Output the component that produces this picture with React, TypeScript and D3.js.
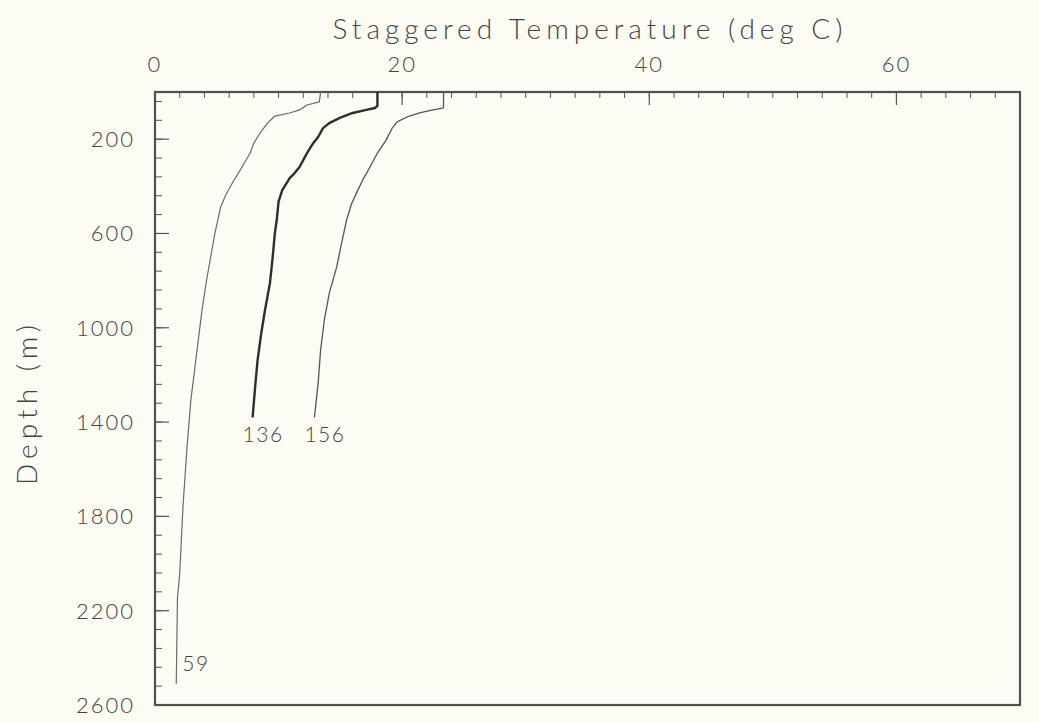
import React from "react";
import * as d3 from "d3";

// ---- data (temperature deg C, staggered; depth m) ----
const profile59Temp = [13.4, 13.3, 12.3, 11.7, 10.9, 9.7, 9.1, 8.5, 8.0, 7.7, 6.9, 6.3, 5.7, 5.3, 4.85, 4.2, 3.8, 3.4, 2.9, 2.6, 2.26, 2.0, 1.82, 1.72];
const profile59Depth = [0, 42, 55, 76, 89, 102, 132, 174, 217, 259, 331, 382, 440, 490, 599, 790, 926, 1096, 1308, 1500, 1762, 2043, 2144, 2510];

const profile136Temp = [18.0, 18.0, 17.8, 17.1, 16.0, 14.95, 14.1, 13.6, 13.2, 12.8, 12.3, 11.7, 11.3, 10.9, 10.3, 10.0, 9.85, 9.7, 9.5, 9.3, 8.9, 8.6, 8.3, 8.1, 7.9];
const profile136Depth = [0, 59, 68, 76, 89, 110, 132, 153, 191, 217, 259, 318, 344, 365, 416, 465, 544, 599, 713, 811, 926, 1023, 1138, 1253, 1380];

const profile156Temp = [23.35, 23.35, 23.3, 22.5, 21.4, 20.4, 19.6, 19.2, 18.7, 18.0, 17.4, 16.8, 16.3, 15.9, 15.5, 15.1, 14.7, 14.1, 13.7, 13.4, 13.2, 12.9];
const profile156Depth = [0, 64, 68, 76, 89, 106, 127, 153, 204, 259, 318, 374, 429, 475, 544, 641, 743, 854, 968, 1096, 1236, 1380];

const profileLabels = ["59", "136", "156"];

const xMajorTicks = [0, 20, 40, 60];
const yMajorTicks = [200, 600, 1000, 1400, 1800, 2200, 2600];

const titleText = "Staggered Temperature (deg C)";
const yTitleText = "Depth (m)";

const W = 1039;
const H = 722;
const FONT = "Lato, 'Open Sans', 'Liberation Sans', sans-serif";
const INK = "#444";

export default function App() {
  const x = d3.scaleLinear().domain([0, 70]).range([155, 1020]);
  const y = d3.scaleLinear().domain([0, 2600]).range([92, 705]);

  const line = d3
    .line<[number, number]>()
    .x((d) => x(d[0]))
    .y((d) => y(d[1]))
    .curve(d3.curveLinear);

  const series = [
    { temp: profile59Temp, depth: profile59Depth, width: 1.2, color: "#6a6a6a" },
    { temp: profile136Temp, depth: profile136Depth, width: 2.4, color: "#2e2e2e" },
    { temp: profile156Temp, depth: profile156Depth, width: 1.3, color: "#555" },
  ];

  const xMinor = d3.range(2, 70, 2);
  const yMinor = d3.range(40, 2600, 80);

  const [x0, x1] = x.range();
  const [y0, y1] = y.range();

  return (
    <svg
      width={W}
      height={H}
      style={{ position: "absolute", left: 0, top: 0 }}
      fontFamily={FONT}
    >
      <rect x={0} y={0} width={W} height={H} fill="#fcfcf5" />

      {/* title */}
      <text
        x={(x0 + x1) / 2}
        y={39}
        textAnchor="middle"
        fontSize={28}
        fontWeight={300}
        fill={INK}
        textLength={510}
        lengthAdjust="spacing"
      >
        {titleText}
      </text>

      {/* y title */}
      <text
        transform={`translate(37, ${(325 + 485) / 2}) rotate(-90)`}
        textAnchor="middle"
        fontSize={28}
        fontWeight={300}
        fill={INK}
        textLength={160}
        lengthAdjust="spacing"
      >
        {yTitleText}
      </text>

      {/* x ticks (top, inward) */}
      {xMinor.map((t) => (
        <line key={"xm" + t} x1={x(t)} x2={x(t)} y1={y0} y2={y0 + 6} stroke="#555" strokeWidth={1} />
      ))}
      {xMajorTicks.map((t) => (
        <g key={"xM" + t}>
          <line x1={x(t)} x2={x(t)} y1={y0} y2={y0 + 13} stroke="#555" strokeWidth={1.2} />
          <text x={x(t)} y={72} textAnchor="middle" fontSize={22} fontWeight={300} fill={INK} letterSpacing={2}>
            {t}
          </text>
        </g>
      ))}

      {/* y ticks (left, inward) */}
      {yMinor.map((t) => (
        <line key={"ym" + t} x1={x0} x2={x0 + 7} y1={y(t)} y2={y(t)} stroke="#555" strokeWidth={1} />
      ))}
      {yMajorTicks.map((t) => (
        <g key={"yM" + t}>
          <line x1={x0} x2={x0 + 14} y1={y(t)} y2={y(t)} stroke="#555" strokeWidth={1.2} />
          <text x={135} y={y(t) + 8} textAnchor="end" fontSize={22} fontWeight={300} fill={INK} letterSpacing={2}>
            {t}
          </text>
        </g>
      ))}

      {/* frame */}
      <rect x={x0} y={y0} width={x1 - x0} height={y1 - y0} fill="none" stroke="#505050" strokeWidth={2.2} />

      {/* profiles */}
      {series.map((s, i) => {
        const pts: [number, number][] = s.temp.map((t, j) => [t, s.depth[j]]);
        return (
          <path key={"p" + i} d={line(pts) || ""} fill="none" stroke={s.color} strokeWidth={s.width} strokeLinejoin="round" />
        );
      })}

      {/* profile labels */}
      {series.map((s, i) => {
        const n = s.temp.length - 1;
        const ex = x(s.temp[n]);
        const ey = y(s.depth[n]);
        const first = i === 0;
        return (
          <text
            key={"l" + i}
            x={first ? ex + 6 : ex - 10}
            y={first ? ey - 13 : ey + 25}
            fontSize={21}
            fontWeight={300}
            fill={INK}
            letterSpacing={1.5}
          >
            {profileLabels[i]}
          </text>
        );
      })}
    </svg>
  );
}
